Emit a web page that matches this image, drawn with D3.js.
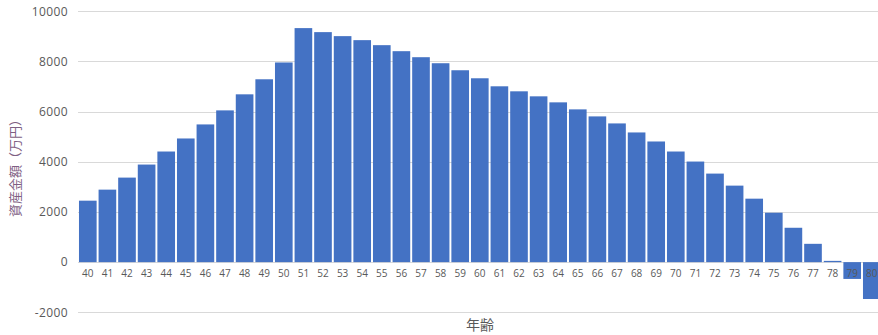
<!DOCTYPE html>
<html>
<head>
<meta charset="utf-8">
<script src="https://cdn.jsdelivr.net/npm/d3@7"></script>
<style>
  html, body { margin: 0; padding: 0; background: #fff; }
  svg { display: block; }
</style>
</head>
<body>
<div id="chart"></div>
<script>
const ages = [40,41,42,43,44,45,46,47,48,49,50,51,52,53,54,55,56,57,58,59,60,61,62,63,64,65,66,67,68,69,70,71,72,73,74,75,76,77,78,79,80];
const assets = [2450,2890,3370,3890,4410,4930,5490,6050,6690,7290,7960,9330,9170,9010,8850,8650,8410,8170,7930,7650,7330,7010,6810,6610,6370,6090,5810,5530,5170,4810,4410,4010,3530,3050,2530,1970,1370,730,50,-670,-1470];
const yTicks = [-2000,0,2000,4000,6000,8000,10000];
const xTitle = "年齢";
const yTitle = "資産金額（万円）";

const W = 878, H = 335;
const svg = d3.select("#chart").append("svg").attr("width", W).attr("height", H);

const x = d3.scaleBand().domain(ages).range([78, 881.6]).paddingInner(0.1).paddingOuter(0.05);
const y = d3.scaleLinear().domain([-2000, 10000]).range([312.3, 11.3]);

// gridlines
svg.append("g").selectAll("line").data(yTicks).join("line")
  .attr("x1", 78).attr("x2", W)
  .attr("y1", d => Math.round(y(d)) + 0.5).attr("y2", d => Math.round(y(d)) + 0.5)
  .attr("stroke", "#d9d9d9").attr("stroke-width", 1);

// y tick labels
const yAxis = d3.axisLeft(y).tickValues(yTicks).tickSize(0).tickPadding(0).tickFormat(d => String(d));
const yg = svg.append("g").attr("transform", "translate(68,0)").call(yAxis);
yg.select(".domain").remove();
yg.selectAll("text").attr("font-family", "'Open Sans', 'Noto Sans', sans-serif")
  .attr("font-size", 12).attr("fill", "#595959").style("letter-spacing", "0.4px");

// bars
svg.append("g").selectAll("rect").data(ages).join("rect")
  .attr("x", (d) => x(d))
  .attr("width", x.bandwidth())
  .attr("y", (d, i) => y(Math.max(0, assets[i])))
  .attr("height", (d, i) => Math.abs(y(assets[i]) - y(0)))
  .attr("fill", "#4472c4");

// x tick labels
const xAxis = d3.axisBottom(x).tickSize(0).tickPadding(0);
const xg = svg.append("g").attr("transform", "translate(0,270)").call(xAxis);
xg.select(".domain").remove();
xg.selectAll("text").attr("font-family", "'Open Sans', 'Noto Sans', sans-serif")
  .attr("font-size", 10).attr("fill", "#595959");

// axis titles
svg.append("text").attr("x", 480).attr("y", 330).attr("text-anchor", "middle")
  .attr("font-family", "'Noto Sans CJK JP', sans-serif").attr("font-size", 14).attr("fill", "#595959")
  .text(xTitle);
svg.append("text").attr("transform", "translate(20,165) rotate(-90)").attr("text-anchor", "middle")
  .attr("font-family", "'Noto Sans CJK JP', sans-serif").attr("font-size", 13).attr("fill", "#7e6083")
  .text(yTitle);
</script>
</body>
</html>
